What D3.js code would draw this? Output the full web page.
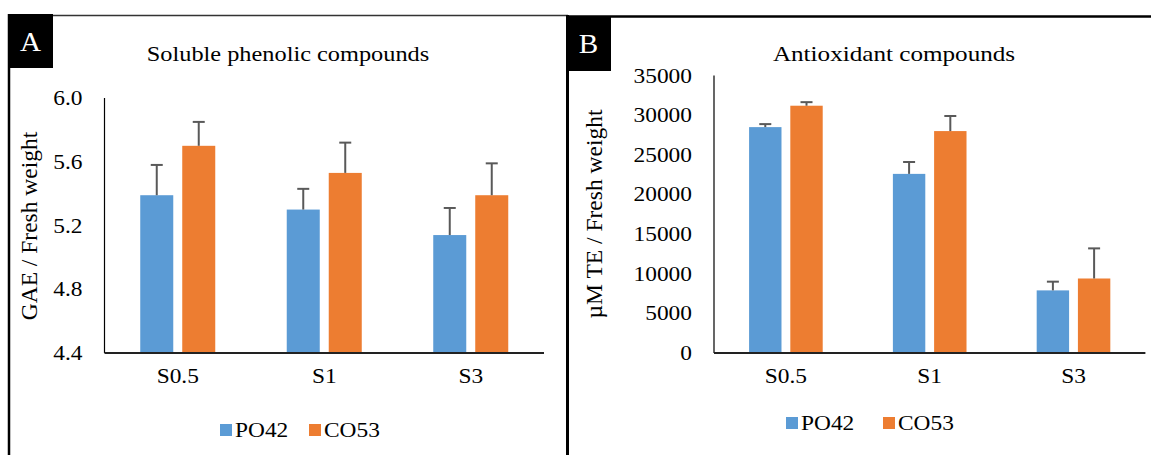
<!DOCTYPE html>
<html>
<head>
<meta charset="utf-8">
<script src="https://cdn.jsdelivr.net/npm/d3@7"></script>
<style>
  body { margin: 0; background: #fff; }
  svg { display: block; }
  text { font-family: "Liberation Serif", "Times New Roman", serif; fill: #000; }
</style>
</head>
<body>
<div id="chart"></div>
<script>
const categories = ["S0.5", "S1", "S3"];
const seriesNames = ["PO42", "CO53"];

// A: soluble phenolic compounds (GAE / fresh weight)
const phenolicPO42 = [5.39, 5.30, 5.14];
const phenolicCO53 = [5.70, 5.53, 5.39];
const phenolicPO42Err = [0.19, 0.13, 0.17];
const phenolicCO53Err = [0.15, 0.19, 0.20];
const phenolicTicks = [4.4, 4.8, 5.2, 5.6, 6.0];

// B: antioxidant compounds (uM TE / fresh weight)
const antioxPO42 = [28500, 22600, 7900];
const antioxCO53 = [31200, 28000, 9400];
const antioxPO42Err = [380, 1500, 1100];
const antioxCO53Err = [450, 1900, 3800];
const antioxTicks = [0, 5000, 10000, 15000, 20000, 25000, 30000, 35000];

const colors = ["#5B9BD5", "#ED7D31"];
const W = 1151, H = 455;
const SX = 1.17; // the picture's text is a little wider than it is tall

const svg = d3.select("#chart").append("svg")
    .attr("width", W)
    .attr("height", H);

function addText(g, x, y, str, size, anchor) {
    return g.append("text")
        .attr("transform", `translate(${x},${y}) scale(${SX},1)`)
        .attr("text-anchor", anchor || "start")
        .style("font-size", size + "px")
        .text(str);
}

function drawPanel(p) {
    const g = svg.append("g");

    const y = d3.scaleLinear().domain(p.domain).range([353, p.top]);
    const x = d3.scaleBand().domain(categories).range([p.left, p.right])
        .paddingInner(0.488).paddingOuter(0.244);
    const xs = d3.scaleBand().domain(seriesNames).range([0, x.bandwidth()])
        .paddingInner(0.214).paddingOuter(0);

    // title
    addText(g, p.titleX, 61, p.title, p.titleSize, "middle");

    // y tick labels (no tick marks)
    p.ticks.forEach(t => {
        addText(g, p.left - 22, y(t), p.fmt(t), 20, "end").attr("dy", "0.35em");
    });

    // y axis title
    g.append("text")
        .attr("transform", `translate(${p.ylabX},${p.ylabY}) rotate(-90)`)
        .attr("text-anchor", "middle")
        .attr("dy", "0.35em")
        .style("font-size", "23.5px")
        .text(p.ylabel);

    // bars
    const rows = [];
    categories.forEach((c, i) => {
        seriesNames.forEach((s, j) => {
            rows.push({ cat: c, ser: s, idx: j, v: p.values[j][i], e: p.errors[j][i] });
        });
    });

    g.selectAll("rect.bar")
        .data(rows)
        .join("rect")
        .attr("class", "bar")
        .attr("x", d => x(d.cat) + xs(d.ser))
        .attr("width", xs.bandwidth())
        .attr("y", d => y(d.v))
        .attr("height", d => y(p.domain[0]) - y(d.v))
        .attr("fill", d => colors[d.idx]);

    // error bars (upper only)
    const eb = g.selectAll("g.err").data(rows).join("g").attr("class", "err")
        .attr("stroke", "#595959").attr("stroke-width", 2);
    eb.append("line")
        .attr("x1", d => x(d.cat) + xs(d.ser) + xs.bandwidth() / 2)
        .attr("x2", d => x(d.cat) + xs(d.ser) + xs.bandwidth() / 2)
        .attr("y1", d => y(d.v))
        .attr("y2", d => y(d.v + d.e));
    eb.append("line")
        .attr("x1", d => x(d.cat) + xs(d.ser) + xs.bandwidth() / 2 - 6)
        .attr("x2", d => x(d.cat) + xs(d.ser) + xs.bandwidth() / 2 + 6)
        .attr("y1", d => y(d.v + d.e))
        .attr("y2", d => y(d.v + d.e));

    // axis lines
    g.append("line")
        .attr("x1", p.left).attr("x2", p.left)
        .attr("y1", y(p.domain[1])).attr("y2", y(p.domain[0]))
        .attr("stroke", "#000").attr("stroke-width", 1.2);
    g.append("line")
        .attr("x1", p.left).attr("x2", p.right)
        .attr("y1", y(p.domain[0])).attr("y2", y(p.domain[0]))
        .attr("stroke", "#222").attr("stroke-width", 1.8);

    // category labels
    categories.forEach(c => {
        addText(g, x(c) + x.bandwidth() / 2, 383, c, 20, "middle");
    });

    // legend
    seriesNames.forEach((s, j) => {
        const lx = p.legX[j];
        g.append("rect")
            .attr("x", lx).attr("y", p.legY - 13)
            .attr("width", 12).attr("height", 12)
            .attr("fill", colors[j]);
        addText(g, lx + 15, p.legY, s, 20, "start");
    });
}

drawPanel({
    title: "Soluble phenolic compounds", titleX: 288, titleSize: 20.8,
    ylabel: "GAE / Fresh weight", ylabX: 29, ylabY: 226,
    domain: [4.4, 6.0], top: 98, left: 104.5, right: 544,
    ticks: phenolicTicks, fmt: d3.format(".1f"),
    values: [phenolicPO42, phenolicCO53], errors: [phenolicPO42Err, phenolicCO53Err],
    legX: [220, 309], legY: 437
});

drawPanel({
    title: "Antioxidant compounds", titleX: 894, titleSize: 21.5,
    ylabel: "\u00B5M TE / Fresh weight", ylabX: 594, ylabY: 214,
    domain: [0, 35000], top: 75.6, left: 714, right: 1145.4,
    ticks: antioxTicks, fmt: d3.format("d"),
    values: [antioxPO42, antioxCO53], errors: [antioxPO42Err, antioxCO53Err],
    legX: [786, 883], legY: 430
});

// panel frames and letter tags
svg.append("line").attr("x1", 8).attr("x2", 568).attr("y1", 15.5).attr("y2", 15.5)
    .attr("stroke", "#333").attr("stroke-width", 1.5);
svg.append("line").attr("x1", 9).attr("x2", 9).attr("y1", 14).attr("y2", H)
    .attr("stroke", "#000").attr("stroke-width", 2.5);
svg.append("line").attr("x1", 567.5).attr("x2", 567.5).attr("y1", 15).attr("y2", H)
    .attr("stroke", "#000").attr("stroke-width", 3);
svg.append("line").attr("x1", 566).attr("x2", W).attr("y1", 16.5).attr("y2", 16.5)
    .attr("stroke", "#000").attr("stroke-width", 2.5);

const tags = [{ t: "A", x: 8, y: 14, h: 54 }, { t: "B", x: 566, y: 16, h: 55 }];
tags.forEach(d => {
    svg.append("rect").attr("x", d.x).attr("y", d.y).attr("width", 45).attr("height", d.h)
        .attr("fill", "#000");
    svg.append("text")
        .attr("transform", `translate(${d.x + 22.5},${d.y + 37}) scale(1.08,1)`)
        .attr("text-anchor", "middle")
        .style("font-size", "27px")
        .style("fill", "#fff")
        .text(d.t);
});
</script>
</body>
</html>
